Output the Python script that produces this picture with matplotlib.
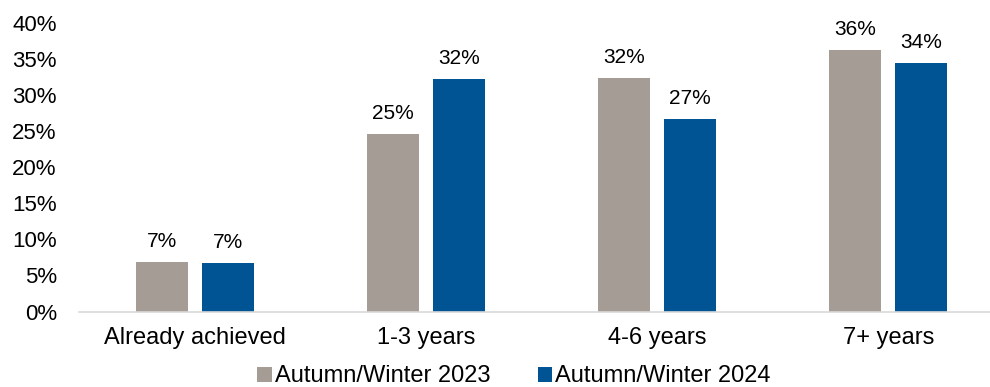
import matplotlib
matplotlib.use("Agg")
import matplotlib.pyplot as plt
import numpy as np

categories = ["Already achieved", "1-3 years", "4-6 years", "7+ years"]
series_names = ["Autumn/Winter 2023", "Autumn/Winter 2024"]
values_2023 = [6.9, 24.6, 32.4, 36.3]
values_2024 = [6.7, 32.2, 26.7, 34.4]
colors = ["#A59C96", "#005493"]
y_ticks = [0, 5, 10, 15, 20, 25, 30, 35, 40]

plt.rcParams["font.family"] = ["Liberation Sans", "DejaVu Sans"]

fig = plt.figure(figsize=(9.9, 3.87), dpi=100)
ax = fig.add_axes([79 / 990, 75.5 / 387, (990 - 79) / 990, (364 - 75.5) / 387])

x = np.arange(len(categories))
width = 0.225
offset = 0.143
for vals, name, col, dx in [(values_2023, series_names[0], colors[0], -offset),
                            (values_2024, series_names[1], colors[1], offset)]:
    bars = ax.bar(x + dx, vals, width, color=col, label=name)
    for b, v in zip(bars, vals):
        ax.annotate(f"{v:.0f}%", (b.get_x() + b.get_width() / 2, v),
                    xytext=(0, 8), textcoords="offset points",
                    ha="center", va="bottom", fontsize=15, color="#000000")

ax.set_xlim(-0.5, 3.44)
ax.set_ylim(0, 40)
ax.set_yticks(y_ticks)
ax.set_yticklabels([f"{t}%" for t in y_ticks])
ax.set_xticks(x)
ax.set_xticklabels(categories)
ax.tick_params(axis="y", length=0, pad=16, labelsize=16)
ax.tick_params(axis="x", length=0, pad=11, labelsize=17)

for s in ["top", "right", "left"]:
    ax.spines[s].set_visible(False)
ax.spines["bottom"].set_color("#D9D9D9")
ax.spines["bottom"].set_linewidth(1.2)

fig.legend(loc="center", bbox_to_anchor=(514 / 990, 1 - 376.5 / 387),
           ncol=2, frameon=False, fontsize=17, handlelength=0.62,
           handleheight=0.62, handletextpad=0.13, columnspacing=2.0,
           borderpad=0, borderaxespad=0)

fig.savefig("out.png", dpi=100)
